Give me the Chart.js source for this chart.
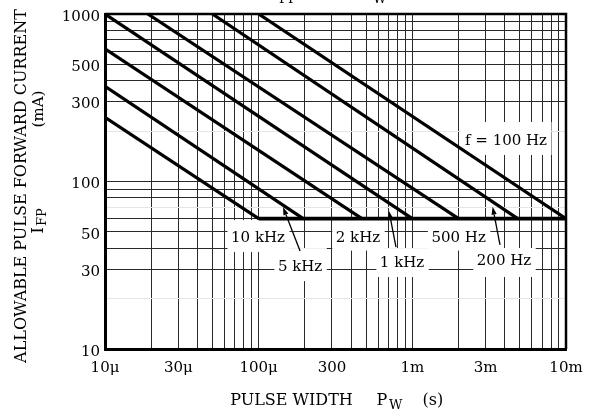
<!DOCTYPE html>
<html>
<head>
<meta charset="utf-8">
<script src="https://cdn.jsdelivr.net/npm/chart.js@4.4.0/dist/chart.umd.min.js"></script>
<style>
html,body{margin:0;padding:0;background:#fff;}
#wrap{width:594px;height:416px;position:relative;}
</style>
</head>
<body>
<div id="wrap"><canvas id="c" width="594" height="416"></canvas></div>
<script>
const FONT = '"DejaVu Serif", "Liberation Serif", serif';

// ---- data: pulse width (s) and allowable pulse forward current (mA) ----
const pw_10kHz  = [1e-5, 1e-4];     const ifp_10kHz  = [242, 60];
const pw_5kHz   = [1e-5, 1.95e-4];  const ifp_5kHz   = [370, 60];
const pw_2kHz   = [1e-5, 4.7e-4];   const ifp_2kHz   = [620, 60];
const pw_1kHz   = [1e-5, 1e-3];     const ifp_1kHz   = [1000, 60];
const pw_500Hz  = [1.9e-5, 2e-3];   const ifp_500Hz  = [1000, 60];
const pw_200Hz  = [5e-5, 4.85e-3];  const ifp_200Hz  = [1000, 60];
const pw_100Hz  = [1e-4, 1e-2];     const ifp_100Hz  = [1000, 60];
const pw_limit  = [1e-4, 1e-2];     const ifp_limit  = [60, 60];

// ---- ticks / grid ----
const xTickValues = [1e-5, 3e-5, 1e-4, 3e-4, 1e-3, 3e-3, 1e-2];
const xTickLabels = ['10\u03bc', '30\u03bc', '100\u03bc', '300', '1m', '3m', '10m'];
const yTickValues = [10, 30, 50, 100, 300, 500, 1000];
const yTickLabels = ['10', '30', '50', '100', '300', '500', '1000'];
const xGridValues = [1e-5,2e-5,3e-5,4e-5,5e-5,6e-5,7e-5,8e-5,9e-5,
                     1e-4,2e-4,3e-4,4e-4,5e-4,6e-4,7e-4,8e-4,9e-4,
                     1e-3,2e-3,3e-3,4e-3,5e-3,6e-3,7e-3,8e-3,9e-3,1e-2];
const yGridValues = [10,20,30,40,50,60,70,80,90,100,200,300,400,500,600,700,800,900,1000];
const yFaintGrid  = [20, 70, 200];

// ---- annotations (label text placed in data coordinates) ----
const curveLabels = [
  {text:'10 kHz', x:9.9e-5,  y:46.9, padT:16.5, padB:15.5},
  {text:'5 kHz',  x:1.86e-4, y:31.7, padT:17,   padB:16},
  {text:'2 kHz',  x:4.43e-4, y:46.9, padT:16.5, padB:14},
  {text:'1 kHz',  x:8.57e-4, y:33.5, padT:13,   padB:16},
  {text:'500 Hz', x:2.0e-3,  y:46.9, padT:16.5, padB:14},
  {text:'200 Hz', x:3.95e-3, y:34.0, padT:12,   padB:17},
  {text:'f = 100 Hz', x:4.07e-3, y:177, padT:18, padB:15}
];
const arrows = [
  {from:[1.86e-4, 38.5], to:[1.44e-4, 70.4]},
  {from:[7.83e-4, 40.6], to:[7.05e-4, 66.7]},
  {from:[3.72e-3, 41.8], to:[3.33e-3, 70.7]}
];

function pts(xs, ys){ return xs.map((x,i)=>({x:x, y:ys[i]})); }
function same(a,b){ return Math.abs(Math.log10(a)-Math.log10(b)) < 1e-6; }
function lab(v, vals, labels){
  for (let i=0;i<vals.length;i++) if (same(v, vals[i])) return labels[i];
  return '';
}

const curves = [
  ['10 kHz', pw_10kHz, ifp_10kHz],
  ['5 kHz', pw_5kHz, ifp_5kHz],
  ['2 kHz', pw_2kHz, ifp_2kHz],
  ['1 kHz', pw_1kHz, ifp_1kHz],
  ['500 Hz', pw_500Hz, ifp_500Hz],
  ['200 Hz', pw_200Hz, ifp_200Hz],
  ['100 Hz', pw_100Hz, ifp_100Hz]
];
const datasets = curves.map(c => ({
  label:c[0], data:pts(c[1], c[2]), borderColor:'#000', borderWidth:3.2,
  pointRadius:0, fill:false, tension:0
}));
datasets.push({label:'limit', data:pts(pw_limit, ifp_limit), borderColor:'#000',
  borderWidth:3.6, pointRadius:0, fill:false, tension:0});

const annotate = {
  id:'annotate',
  beforeDatasetsDraw(chart){
    const ctx = chart.ctx, xs = chart.scales.x, ys = chart.scales.y;
    ctx.save();
    ctx.font = '15px ' + FONT;
    ctx.fillStyle = '#fff';
    curveLabels.forEach(l => {
      const cx = xs.getPixelForValue(l.x), cy = ys.getPixelForValue(l.y);
      const w = ctx.measureText(l.text).width;
      ctx.fillRect(cx - w/2 - 3.5, cy - l.padT, w + 8, l.padT + l.padB);
    });
    ctx.restore();
  },
  afterDatasetsDraw(chart){
    const ctx = chart.ctx, xs = chart.scales.x, ys = chart.scales.y, a = chart.chartArea;
    ctx.save();
    ctx.fillStyle = '#000';
    ctx.font = '15px ' + FONT;
    ctx.textAlign = 'center';
    ctx.textBaseline = 'alphabetic';
    curveLabels.forEach(l => {
      const cx = xs.getPixelForValue(l.x), cy = ys.getPixelForValue(l.y);
      ctx.fillText(l.text, cx, cy + 5.5);
    });
    // arrows
    ctx.strokeStyle = '#000';
    ctx.lineWidth = 1.3;
    arrows.forEach(ar => {
      const x1 = xs.getPixelForValue(ar.from[0]), y1 = ys.getPixelForValue(ar.from[1]);
      const x2 = xs.getPixelForValue(ar.to[0]),   y2 = ys.getPixelForValue(ar.to[1]);
      const ang = Math.atan2(y2 - y1, x2 - x1);
      const L = 8, H = 2.6;
      const bx = x2 - L*Math.cos(ang), by = y2 - L*Math.sin(ang);
      ctx.beginPath(); ctx.moveTo(x1, y1); ctx.lineTo(bx, by); ctx.stroke();
      ctx.beginPath();
      ctx.moveTo(x2, y2);
      ctx.lineTo(bx + H*Math.sin(ang), by - H*Math.cos(ang));
      ctx.lineTo(bx - H*Math.sin(ang), by + H*Math.cos(ang));
      ctx.closePath(); ctx.fill();
    });
    // frame
    ctx.lineWidth = 2.5;
    ctx.beginPath();
    ctx.moveTo(a.left, a.top); ctx.lineTo(a.right, a.top); ctx.lineTo(a.right, a.bottom);
    ctx.stroke();
    ctx.restore();
  },
  afterDraw(chart){
    const ctx = chart.ctx;
    ctx.save();
    ctx.fillStyle = '#000';
    // cut-off title at the top: I_FP – P_W
    ctx.textAlign = 'left'; ctx.textBaseline = 'alphabetic';
    ctx.font = '17px ' + FONT;
    ctx.fillText('I', 270, -1);
    ctx.fillText('P', 362, -1);
    ctx.font = '13px ' + FONT;
    ctx.fillText('FP', 279, 2.5);
    ctx.fillText('W', 373, 2.5);
    // y title
    ctx.save();
    ctx.translate(26, 186);
    ctx.rotate(-Math.PI/2);
    ctx.font = '16px ' + FONT;
    ctx.textAlign = 'center';
    ctx.fillText('ALLOWABLE PULSE FORWARD CURRENT', 0, 0);
    ctx.restore();
    ctx.save();
    ctx.translate(42.5, 0);
    ctx.rotate(-Math.PI/2);
    ctx.font = '15px ' + FONT;
    ctx.textAlign = 'center';
    ctx.fillText('(mA)', -109, 0);
    ctx.textAlign = 'left';
    ctx.font = '17px ' + FONT;
    const wI = ctx.measureText('I').width;
    ctx.font = '13px ' + FONT;
    const wFP = ctx.measureText('FP').width;
    const start = -221 - (wI + wFP + 1)/2;
    ctx.font = '17px ' + FONT;
    ctx.fillText('I', start, 0.5);
    ctx.font = '13px ' + FONT;
    ctx.fillText('FP', start + wI + 1, 3.5);
    ctx.restore();
    // x title
    ctx.textAlign = 'center';
    ctx.font = '16px ' + FONT;
    ctx.fillText('PULSE WIDTH', 291.5, 405);
    ctx.textAlign = 'left';
    ctx.fillText('P', 376.5, 405);
    ctx.font = '13px ' + FONT;
    ctx.fillText('W', 389, 409);
    ctx.font = '16px ' + FONT;
    ctx.fillText('(s)', 422.5, 405);
    ctx.restore();
  }
};

function gridColor(faint){
  return ctx => {
    const v = ctx.tick ? ctx.tick.value : null;
    if (faint && v !== null && faint.some(f => same(f, v))) return '#e6e6e6';
    return '#2a2a2a';
  };
}

new Chart(document.getElementById('c'), {
  type:'line',
  data:{datasets:datasets},
  options:{
    responsive:false, animation:false, devicePixelRatio:1,
    layout:{padding:{left:0, right:28, top:14, bottom:0}},
    plugins:{legend:{display:false}, tooltip:{enabled:false}, title:{display:false}},
    scales:{
      x:{
        type:'logarithmic', min:1e-5, max:1e-2,
        afterBuildTicks: s => { s.ticks = xGridValues.map(v => ({value:v})); },
        afterFit: s => { s.height = 67; },
        grid:{color:gridColor(null), lineWidth:1, drawTicks:false},
        border:{display:true, color:'#000', width:3},
        ticks:{autoSkip:false, maxRotation:0, minRotation:0, padding:10, color:'#000',
          font:{family:FONT, size:15},
          callback: v => lab(v, xTickValues, xTickLabels)}
      },
      y:{
        type:'logarithmic', min:10, max:1000,
        afterBuildTicks: s => { s.ticks = yGridValues.map(v => ({value:v})); },
        afterFit: s => { s.width = 105; },
        grid:{color:gridColor(yFaintGrid), lineWidth:1, drawTicks:false},
        border:{display:true, color:'#000', width:3},
        ticks:{autoSkip:false, padding:5, color:'#000', labelOffset:3,
          font:{family:FONT, size:15},
          callback: v => lab(v, yTickValues, yTickLabels)}
      }
    }
  },
  plugins:[annotate]
});
</script>
</body>
</html>
